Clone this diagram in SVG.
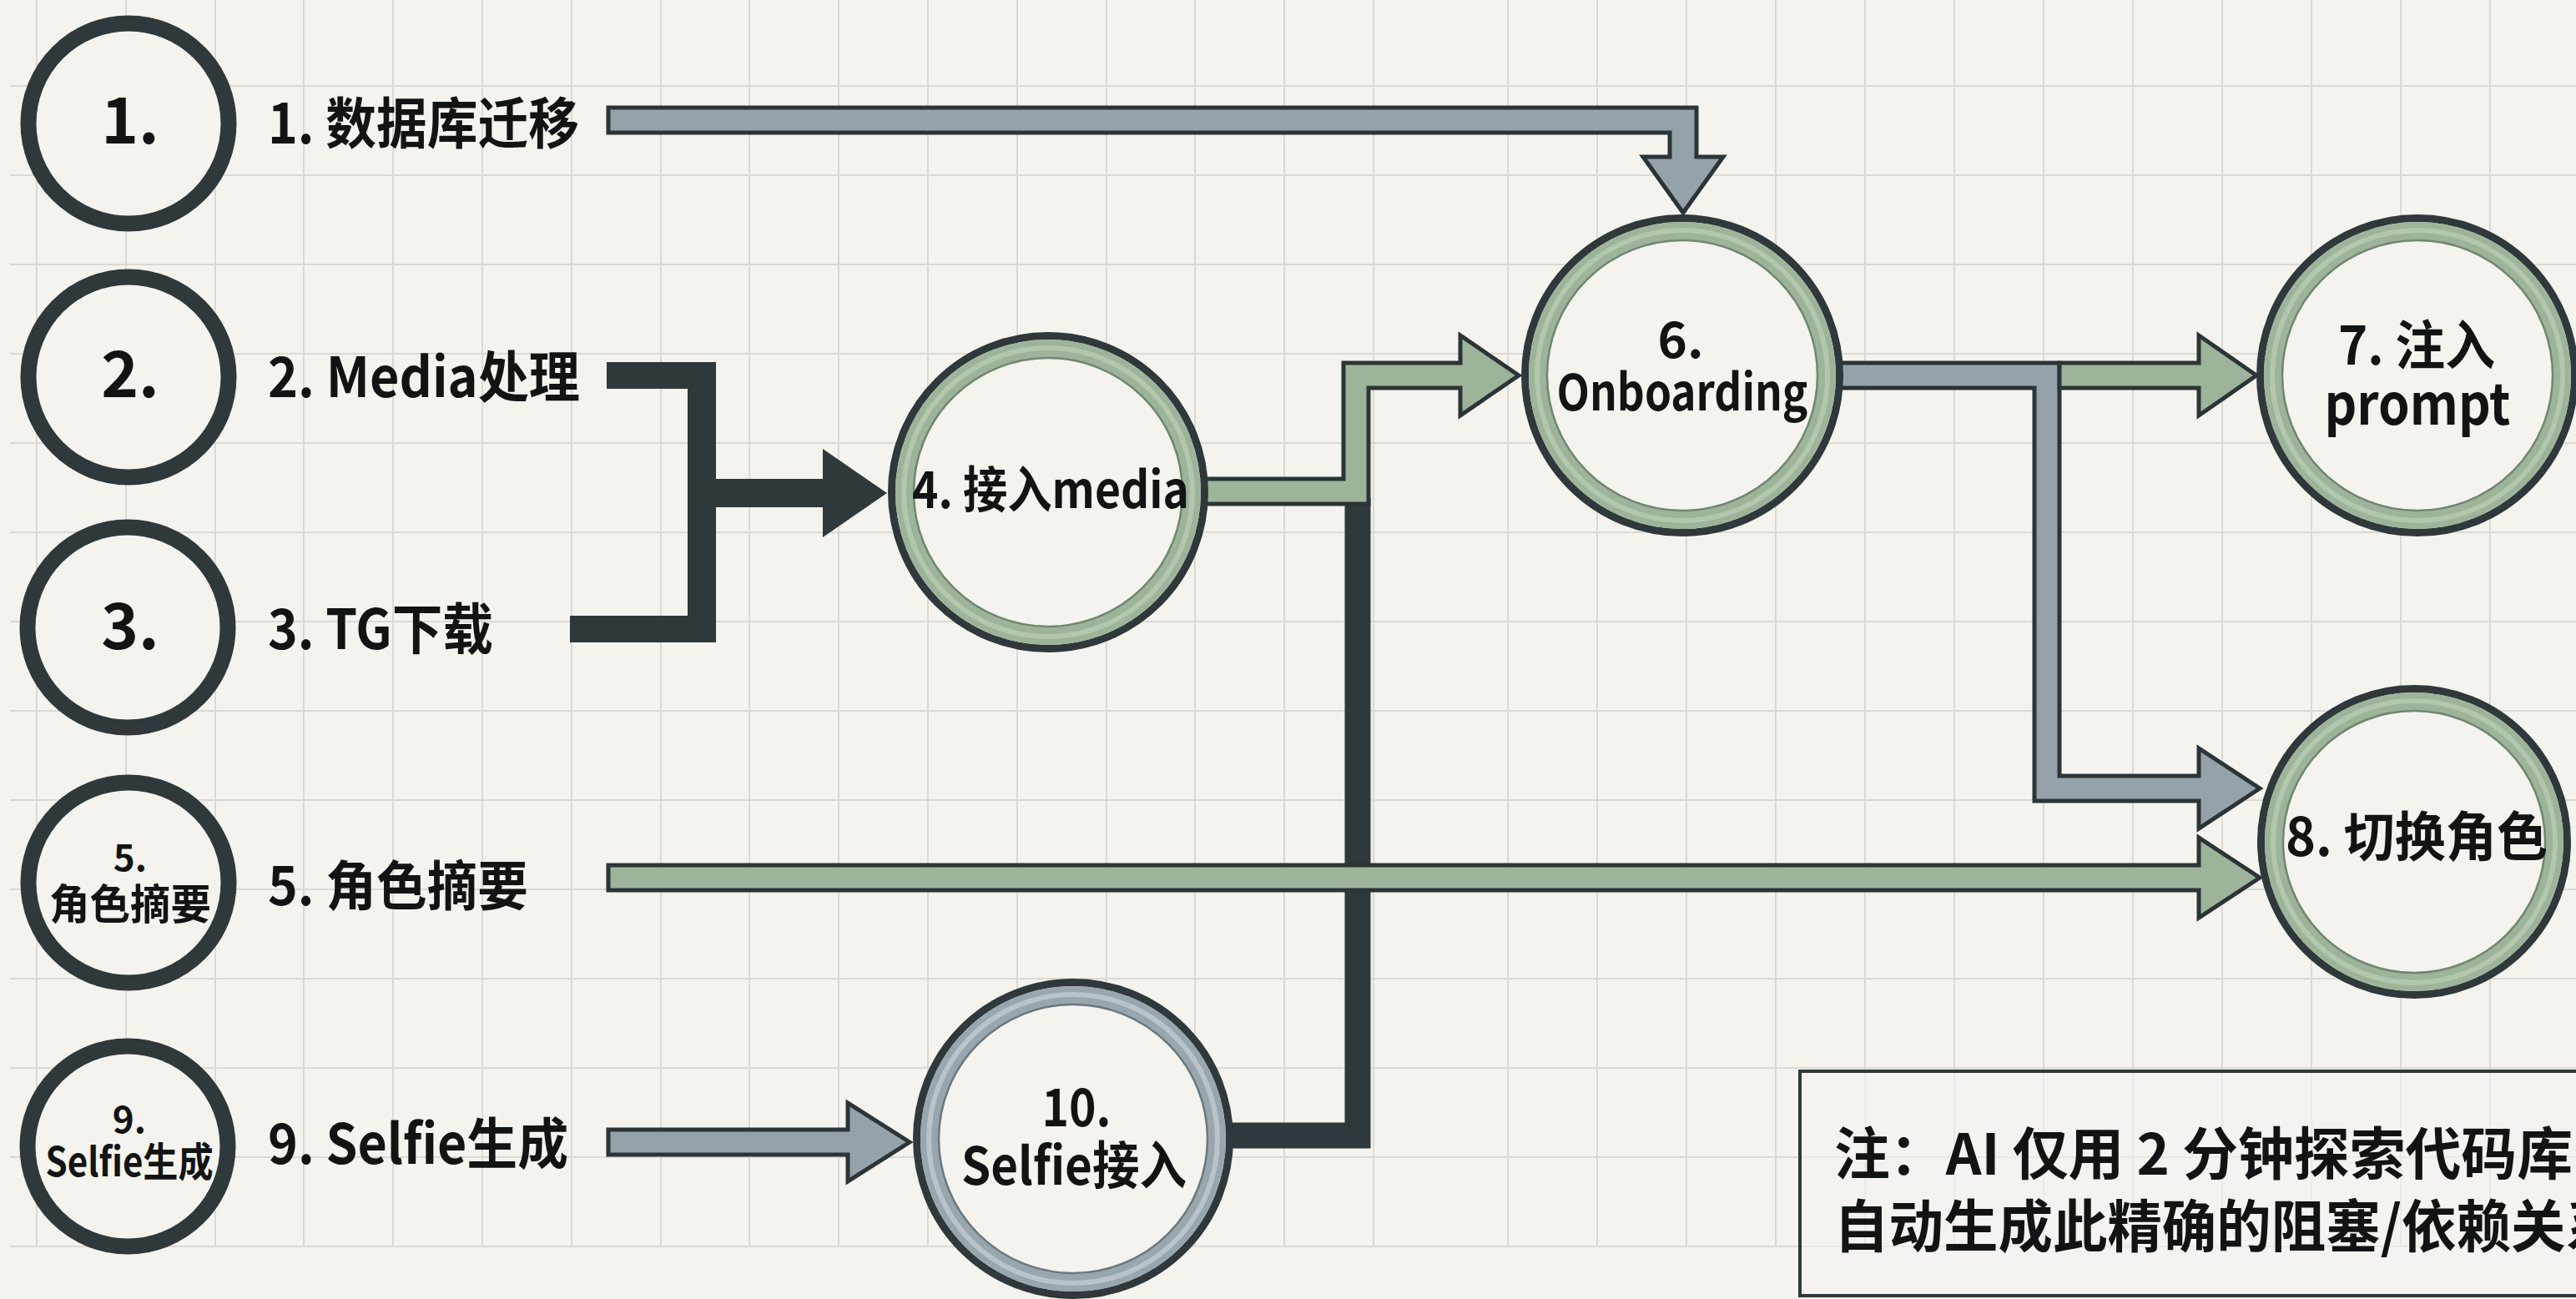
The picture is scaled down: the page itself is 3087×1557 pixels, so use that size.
<svg xmlns="http://www.w3.org/2000/svg" width="3087" height="1557" viewBox="0 0 3087 1557">
<style>
text{font-family:"Noto Sans CJK SC","Noto Sans",sans-serif;font-weight:700;fill:#121414}
.c{text-anchor:middle}
.grid line{stroke:#dad9d3;stroke-width:2}
.plain{fill:#f4f3ee;stroke:#2f383b;stroke-width:19}
.ringDark{fill:#f4f3ee;stroke:#2f383b;stroke-width:9}
.bandG{fill:none;stroke:#9db49a;stroke-width:22}
.hiG{fill:none;stroke:#b3c7af;stroke-width:6}
.inG{fill:none;stroke:#6f876e;stroke-width:2.5}
.bandB{fill:none;stroke:#98a6ae;stroke-width:22}
.hiB{fill:none;stroke:#b9c4ca;stroke-width:6}
.inB{fill:none;stroke:#6a7880;stroke-width:2.5}
.fatG{fill:#9db49a;stroke:#2b3437;stroke-width:5;stroke-linejoin:miter}
.fatB{fill:#95a2aa;stroke:#2b3437;stroke-width:5;stroke-linejoin:miter}
.dark{fill:#2f383b}
</style>
<rect width="3087" height="1557" fill="#f4f3ee"/>
<g class="grid">
<line x1="44" y1="0" x2="44" y2="1494"/><line x1="151" y1="0" x2="151" y2="1494"/><line x1="258" y1="0" x2="258" y2="1494"/><line x1="364" y1="0" x2="364" y2="1494"/><line x1="471" y1="0" x2="471" y2="1494"/><line x1="578" y1="0" x2="578" y2="1494"/><line x1="685" y1="0" x2="685" y2="1494"/><line x1="792" y1="0" x2="792" y2="1494"/><line x1="898" y1="0" x2="898" y2="1494"/><line x1="1005" y1="0" x2="1005" y2="1494"/><line x1="1112" y1="0" x2="1112" y2="1494"/><line x1="1219" y1="0" x2="1219" y2="1494"/><line x1="1326" y1="0" x2="1326" y2="1494"/><line x1="1432" y1="0" x2="1432" y2="1494"/><line x1="1539" y1="0" x2="1539" y2="1494"/><line x1="1646" y1="0" x2="1646" y2="1494"/>
<line x1="1807" y1="0" x2="1807" y2="1494"/><line x1="1914" y1="0" x2="1914" y2="1494"/><line x1="2021" y1="0" x2="2021" y2="1494"/><line x1="2128" y1="0" x2="2128" y2="1494"/><line x1="2235" y1="0" x2="2235" y2="1494"/><line x1="2342" y1="0" x2="2342" y2="1494"/><line x1="2449" y1="0" x2="2449" y2="1494"/><line x1="2556" y1="0" x2="2556" y2="1494"/><line x1="2663" y1="0" x2="2663" y2="1494"/><line x1="2770" y1="0" x2="2770" y2="1494"/><line x1="2877" y1="0" x2="2877" y2="1494"/><line x1="2984" y1="0" x2="2984" y2="1494"/>
<line x1="12" y1="103" x2="3087" y2="103"/><line x1="12" y1="210" x2="3087" y2="210"/><line x1="12" y1="317" x2="3087" y2="317"/><line x1="12" y1="424" x2="3087" y2="424"/><line x1="12" y1="531" x2="3087" y2="531"/><line x1="12" y1="638" x2="3087" y2="638"/><line x1="12" y1="745" x2="3087" y2="745"/><line x1="12" y1="852" x2="3087" y2="852"/><line x1="12" y1="959" x2="3087" y2="959"/><line x1="12" y1="1066" x2="3087" y2="1066"/><line x1="12" y1="1173" x2="3087" y2="1173"/><line x1="12" y1="1280" x2="3087" y2="1280"/><line x1="12" y1="1387" x2="3087" y2="1387"/><line x1="12" y1="1494" x2="3087" y2="1494"/>
</g>

<g id="connectors">
<path id="e1-6" class="fatB" d="M729,129 H2033 V188 H2065 L2017,255 L1969,188 H2001 V159 H729 Z"/>
<g id="e2-3-4">
<path class="dark" d="M727,434 H858 V574 H986 V538 L1063,591 L986,644 V608 H858 V770 H683 V738 H824 V466 H727 Z"/>
</g>
<polyline id="e10-6" points="1470,1361 1627,1361 1627,596" fill="none" stroke="#2f383b" stroke-width="31" stroke-linejoin="miter"/>
<path id="e4-6" class="fatG" d="M1440,574 H1610 V435 H1750 V402 L1820,450 L1750,498 V465 H1640 V604 H1440 Z"/>
<path id="e6-8" class="fatB" d="M2200,435 H2468 V930 H2635 V897 L2708,945 L2635,993 V960 H2438 V465 H2200 Z"/>
<path id="e6-7" class="fatG" d="M2468,435 H2635 V402 L2704,450 L2635,498 V465 H2468 Z"/>
<path id="e5-8" class="fatG" d="M729,1037 H2635 V1004 L2708,1052 L2635,1100 V1067 H729 Z"/>
<path id="e9-10" class="fatB" d="M729,1354 H1016 V1322 L1090,1369 L1016,1416 V1384 H729 Z"/>
</g>

<g id="n1"><circle class="plain" cx="154" cy="148" r="120"/><text class="c" x="156" y="172" font-size="76">1.</text></g>
<g id="n2"><circle class="plain" cx="154" cy="452" r="120"/><text class="c" x="156" y="476" font-size="76">2.</text></g>
<g id="n3"><circle class="plain" cx="153" cy="752" r="120"/><text class="c" x="156" y="778" font-size="76">3.</text></g>
<g id="n5"><circle class="plain" cx="154" cy="1058" r="120"/><text class="c" x="156" y="1044" font-size="44">5.</text><text class="c" x="156" y="1102" font-size="50" textLength="194" lengthAdjust="spacingAndGlyphs">角色摘要</text></g>
<g id="n9"><circle class="plain" cx="153" cy="1374" r="120"/><text class="c" x="155" y="1358" font-size="44">9.</text><text class="c" x="155" y="1410" font-size="48" textLength="201" lengthAdjust="spacingAndGlyphs">Selfie生成</text></g>

<g id="labels">
<text x="321" y="172" font-size="66" textLength="373" lengthAdjust="spacingAndGlyphs">1. 数据库迁移</text>
<text x="321" y="476" font-size="66" textLength="374" lengthAdjust="spacingAndGlyphs">2. Media处理</text>
<text x="321" y="778" font-size="66" textLength="270" lengthAdjust="spacingAndGlyphs">3. TG下载</text>
<text x="321" y="1085" font-size="64" textLength="312" lengthAdjust="spacingAndGlyphs">5. 角色摘要</text>
<text x="321" y="1395" font-size="66" textLength="360" lengthAdjust="spacingAndGlyphs">9. Selfie生成</text>
</g>

<g id="n4"><circle class="ringDark" cx="1256" cy="590" r="187.5"/><circle class="bandG" cx="1256" cy="590" r="172"/><circle class="hiG" cx="1256" cy="590" r="173"/><circle class="inG" cx="1256" cy="590" r="161"/><text class="c" x="1259" y="609" font-size="60" textLength="332" lengthAdjust="spacingAndGlyphs">4. 接入media</text></g>
<g id="n6"><circle class="ringDark" cx="2016" cy="450" r="188.5"/><circle class="bandG" cx="2016" cy="450" r="173"/><circle class="hiG" cx="2016" cy="450" r="174"/><circle class="inG" cx="2016" cy="450" r="162"/><text class="c" x="2014" y="429" font-size="60">6.</text><text class="c" x="2016" y="492" font-size="60" textLength="301" lengthAdjust="spacingAndGlyphs">Onboarding</text></g>
<g id="n7"><circle class="ringDark" cx="2897" cy="450" r="188.5"/><circle class="bandG" cx="2897" cy="450" r="173"/><circle class="hiG" cx="2897" cy="450" r="174"/><circle class="inG" cx="2897" cy="450" r="162"/><text class="c" x="2896" y="437" font-size="64" textLength="188" lengthAdjust="spacingAndGlyphs">7. 注入</text><text class="c" x="2897" y="509" font-size="68" textLength="223" lengthAdjust="spacingAndGlyphs">prompt</text></g>
<g id="n8"><circle class="ringDark" cx="2893" cy="1009" r="183.5"/><circle class="bandG" cx="2893" cy="1009" r="168"/><circle class="hiG" cx="2893" cy="1009" r="169"/><circle class="inG" cx="2893" cy="1009" r="157"/><text class="c" x="2896" y="1026" font-size="64" textLength="314" lengthAdjust="spacingAndGlyphs">8. 切换角色</text></g>
<g id="n10"><circle class="ringDark" cx="1286" cy="1365" r="187.5"/><circle class="bandB" cx="1286" cy="1365" r="172"/><circle class="hiB" cx="1286" cy="1365" r="173"/><circle class="inB" cx="1286" cy="1365" r="161"/><text class="c" x="1290" y="1350" font-size="62" textLength="83" lengthAdjust="spacingAndGlyphs">10.</text><text class="c" x="1287" y="1420" font-size="62" textLength="270" lengthAdjust="spacingAndGlyphs">Selfie接入</text></g>

<g id="note">
<rect x="2157" y="1284" width="960" height="269" fill="#f5f4f0" fill-opacity="0.6" stroke="#2f383b" stroke-width="4"/>
<text x="2198" y="1408" font-size="68" textLength="885" lengthAdjust="spacingAndGlyphs">注：AI 仅用 2 分钟探索代码库</text>
<text x="2198" y="1495" font-size="68" textLength="942" lengthAdjust="spacingAndGlyphs">自动生成此精确的阻塞/依赖关系</text>
</g>
</svg>
